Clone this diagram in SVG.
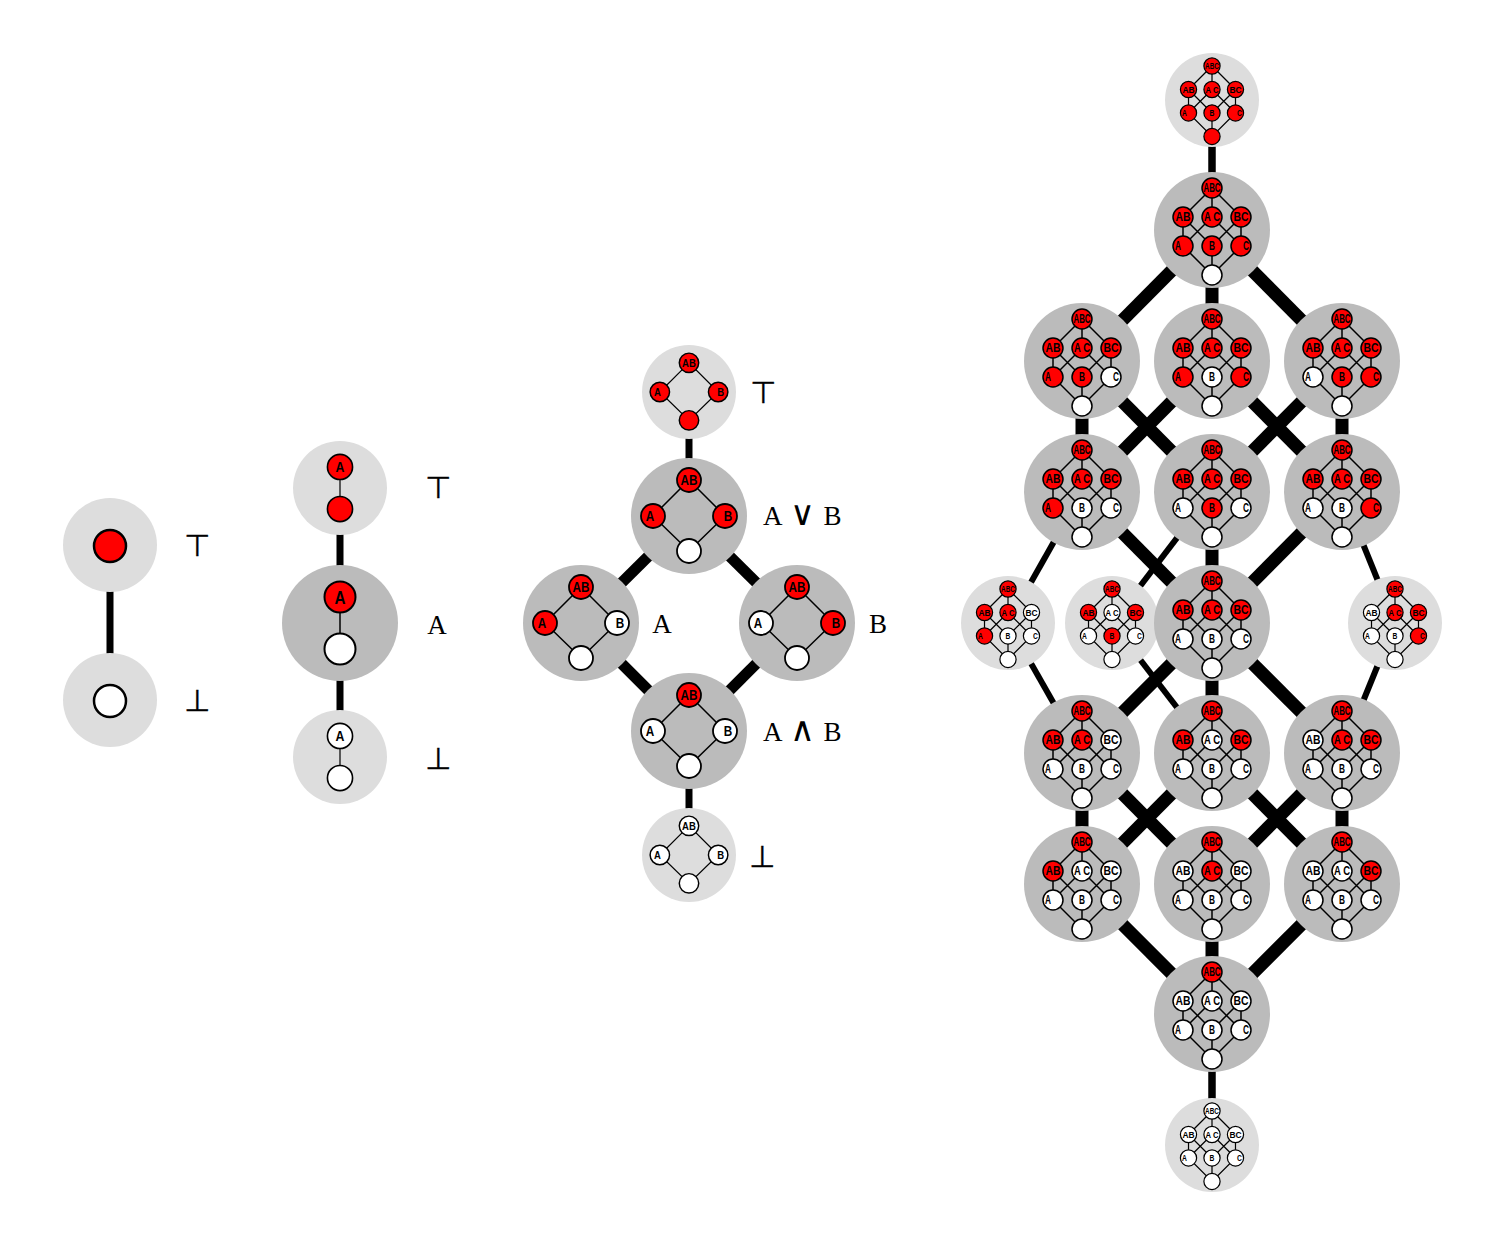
<svg xmlns="http://www.w3.org/2000/svg" xmlns:xlink="http://www.w3.org/1999/xlink" width="1500" height="1244" viewBox="0 0 1500 1244">
<style>
.lt{fill:#dddddd}
.dk{fill:#bbbbbb}
.r{fill:#ff0000;stroke:#000;stroke-width:1.5}
.w{fill:#ffffff;stroke:#000;stroke-width:1.5}
.ie{fill:none;stroke:#000;stroke-width:1.5}
.v2 .r,.v2 .w,.v2 .ie{stroke-width:1.8}
.v1 .r,.v1 .w,.v1 .ie{stroke-width:2}
.v0 .r,.v0 .w{stroke-width:2.5}
.cn line{stroke:#000}
.t3{font-family:"Liberation Sans",Arial,sans-serif;font-size:12px;font-weight:bold;text-anchor:middle;fill:#000}
.t2{font-family:"Liberation Sans",Arial,sans-serif;font-size:14px;font-weight:bold;text-anchor:middle;fill:#000}
.t1{font-family:"Liberation Sans",Arial,sans-serif;font-size:18px;font-weight:bold;text-anchor:middle;fill:#000}
.sym{font-family:"DejaVu Sans",sans-serif;font-size:30px;text-anchor:middle;fill:#000;stroke:#000;stroke-width:0.4}
.lab{font-family:"Liberation Serif","Times New Roman",serif;font-size:27px;fill:#000}
.op{font-family:"DejaVu Sans",sans-serif;font-size:34px;font-weight:300}
.mid{text-anchor:middle}
.ws{word-spacing:2px}
</style>
<defs>
<path id="E3" class="ie" d="M-29,-13L0,-42L29,-13M0,-42V-13M-29,-13V16L0,45L29,16V-13M-29,-13L0,16M0,-13L-29,16M0,-13L29,16M29,-13L0,16M0,16V45"/>
<path id="E2" class="ie" d="M0,-36L-36,0L0,35L36,0Z"/>
<path id="E1" class="ie" d="M0,-26V26"/>
</defs>
<rect width="1500" height="1244" fill="#ffffff"/>

<g id="connectors" class="cn">
<line x1="110" y1="545" x2="110" y2="700" stroke-width="7"/>
<line x1="340" y1="488" x2="340" y2="757" stroke-width="7"/>
<line x1="689" y1="392" x2="689" y2="516" stroke-width="7"/>
<line x1="689" y1="731" x2="689" y2="855" stroke-width="7"/>
<line x1="689" y1="516" x2="581" y2="623" stroke-width="11"/>
<line x1="689" y1="516" x2="797" y2="623" stroke-width="11"/>
<line x1="581" y1="623" x2="689" y2="731" stroke-width="11"/>
<line x1="797" y1="623" x2="689" y2="731" stroke-width="11"/>
<line x1="1212" y1="100" x2="1212" y2="230" stroke-width="7.5"/>
<line x1="1212" y1="230" x2="1082" y2="361" stroke-width="13"/>
<line x1="1212" y1="230" x2="1212" y2="361" stroke-width="13"/>
<line x1="1212" y1="230" x2="1342" y2="361" stroke-width="13"/>
<line x1="1082" y1="361" x2="1082" y2="492" stroke-width="13"/>
<line x1="1082" y1="361" x2="1212" y2="492" stroke-width="13"/>
<line x1="1212" y1="361" x2="1082" y2="492" stroke-width="13"/>
<line x1="1212" y1="361" x2="1342" y2="492" stroke-width="13"/>
<line x1="1342" y1="361" x2="1212" y2="492" stroke-width="13"/>
<line x1="1342" y1="361" x2="1342" y2="492" stroke-width="13"/>
<line x1="1082" y1="492" x2="1008" y2="623" stroke-width="6"/>
<line x1="1082" y1="492" x2="1212" y2="623" stroke-width="13"/>
<line x1="1212" y1="492" x2="1112" y2="623" stroke-width="6"/>
<line x1="1212" y1="492" x2="1212" y2="623" stroke-width="13"/>
<line x1="1342" y1="492" x2="1212" y2="623" stroke-width="13"/>
<line x1="1342" y1="492" x2="1395" y2="623" stroke-width="6"/>
<line x1="1008" y1="623" x2="1082" y2="753" stroke-width="6"/>
<line x1="1212" y1="623" x2="1082" y2="753" stroke-width="13"/>
<line x1="1112" y1="623" x2="1212" y2="753" stroke-width="6"/>
<line x1="1212" y1="623" x2="1212" y2="753" stroke-width="13"/>
<line x1="1212" y1="623" x2="1342" y2="753" stroke-width="13"/>
<line x1="1395" y1="623" x2="1342" y2="753" stroke-width="6"/>
<line x1="1082" y1="753" x2="1082" y2="884" stroke-width="13"/>
<line x1="1082" y1="753" x2="1212" y2="884" stroke-width="13"/>
<line x1="1212" y1="753" x2="1082" y2="884" stroke-width="13"/>
<line x1="1212" y1="753" x2="1342" y2="884" stroke-width="13"/>
<line x1="1342" y1="753" x2="1212" y2="884" stroke-width="13"/>
<line x1="1342" y1="753" x2="1342" y2="884" stroke-width="13"/>
<line x1="1082" y1="884" x2="1212" y2="1014" stroke-width="13"/>
<line x1="1212" y1="884" x2="1212" y2="1014" stroke-width="13"/>
<line x1="1342" y1="884" x2="1212" y2="1014" stroke-width="13"/>
<line x1="1212" y1="1014" x2="1212" y2="1145" stroke-width="7.5"/>
</g>

<!-- Diagram 1 -->
<g id="d1-top" class="v0"><circle class="lt" cx="110" cy="545" r="47"/><circle class="r" cx="110" cy="546" r="16"/></g>
<g id="d1-bot" class="v0"><circle class="lt" cx="110" cy="700" r="47"/><circle class="w" cx="110" cy="701" r="16"/></g>

<!-- Diagram 2 -->
<g id="d2-top" class="v1" transform="translate(340,488) scale(.81)"><circle class="lt" r="58"/><use href="#E1"/><circle class="r" cy="-26" r="15.5"/><circle class="r" cy="26" r="15.5"/><text class="t1" y="-19.5" textLength="11" lengthAdjust="spacingAndGlyphs">A</text></g>
<g id="d2-mid" class="v1" transform="translate(340,623)"><circle class="dk" r="58"/><use href="#E1"/><circle class="r" cy="-26" r="15.5"/><circle class="w" cy="26" r="15.5"/><text class="t1" y="-19.5" textLength="11" lengthAdjust="spacingAndGlyphs">A</text></g>
<g id="d2-bot" class="v1" transform="translate(340,757) scale(.81)"><circle class="lt" r="58"/><use href="#E1"/><circle class="w" cy="-26" r="15.5"/><circle class="w" cy="26" r="15.5"/><text class="t1" y="-19.5" textLength="11" lengthAdjust="spacingAndGlyphs">A</text></g>

<!-- Diagram 3 -->
<g id="d3-top" class="v2" transform="translate(689,392) scale(.81)"><circle class="lt" r="58"/><use href="#E2"/><circle class="r" cy="-36" r="12"/><circle class="r" cx="-36" r="12"/><circle class="r" cx="36" r="12"/><circle class="r" cy="35" r="12"/><text class="t2" y="-31" textLength="17" lengthAdjust="spacingAndGlyphs">AB</text><text class="t2" x="-39" y="5" textLength="8.5" lengthAdjust="spacingAndGlyphs">A</text><text class="t2" x="39" y="5" textLength="8.5" lengthAdjust="spacingAndGlyphs">B</text></g>
<g id="d3-or" class="v2" transform="translate(689,516)"><circle class="dk" r="58"/><use href="#E2"/><circle class="r" cy="-36" r="12"/><circle class="r" cx="-36" r="12"/><circle class="r" cx="36" r="12"/><circle class="w" cy="35" r="12"/><text class="t2" y="-31" textLength="17" lengthAdjust="spacingAndGlyphs">AB</text><text class="t2" x="-39" y="5" textLength="8.5" lengthAdjust="spacingAndGlyphs">A</text><text class="t2" x="39" y="5" textLength="8.5" lengthAdjust="spacingAndGlyphs">B</text></g>
<g id="d3-a" class="v2" transform="translate(581,623)"><circle class="dk" r="58"/><use href="#E2"/><circle class="r" cy="-36" r="12"/><circle class="r" cx="-36" r="12"/><circle class="w" cx="36" r="12"/><circle class="w" cy="35" r="12"/><text class="t2" y="-31" textLength="17" lengthAdjust="spacingAndGlyphs">AB</text><text class="t2" x="-39" y="5" textLength="8.5" lengthAdjust="spacingAndGlyphs">A</text><text class="t2" x="39" y="5" textLength="8.5" lengthAdjust="spacingAndGlyphs">B</text></g>
<g id="d3-b" class="v2" transform="translate(797,623)"><circle class="dk" r="58"/><use href="#E2"/><circle class="r" cy="-36" r="12"/><circle class="w" cx="-36" r="12"/><circle class="r" cx="36" r="12"/><circle class="w" cy="35" r="12"/><text class="t2" y="-31" textLength="17" lengthAdjust="spacingAndGlyphs">AB</text><text class="t2" x="-39" y="5" textLength="8.5" lengthAdjust="spacingAndGlyphs">A</text><text class="t2" x="39" y="5" textLength="8.5" lengthAdjust="spacingAndGlyphs">B</text></g>
<g id="d3-and" class="v2" transform="translate(689,731)"><circle class="dk" r="58"/><use href="#E2"/><circle class="r" cy="-36" r="12"/><circle class="w" cx="-36" r="12"/><circle class="w" cx="36" r="12"/><circle class="w" cy="35" r="12"/><text class="t2" y="-31" textLength="17" lengthAdjust="spacingAndGlyphs">AB</text><text class="t2" x="-39" y="5" textLength="8.5" lengthAdjust="spacingAndGlyphs">A</text><text class="t2" x="39" y="5" textLength="8.5" lengthAdjust="spacingAndGlyphs">B</text></g>
<g id="d3-bot" class="v2" transform="translate(689,855) scale(.81)"><circle class="lt" r="58"/><use href="#E2"/><circle class="w" cy="-36" r="12"/><circle class="w" cx="-36" r="12"/><circle class="w" cx="36" r="12"/><circle class="w" cy="35" r="12"/><text class="t2" y="-31" textLength="17" lengthAdjust="spacingAndGlyphs">AB</text><text class="t2" x="-39" y="5" textLength="8.5" lengthAdjust="spacingAndGlyphs">A</text><text class="t2" x="39" y="5" textLength="8.5" lengthAdjust="spacingAndGlyphs">B</text></g>

<!-- Diagram 4 -->
<g id="d4-top" transform="translate(1212,100) scale(.81)"><circle class="lt" r="58"/><use href="#E3"/><circle class="r" cy="-42" r="10"/><circle class="r" cx="-29" cy="-13" r="10"/><circle class="r" cy="-13" r="10"/><circle class="r" cx="29" cy="-13" r="10"/><circle class="r" cx="-29" cy="16" r="10"/><circle class="r" cy="16" r="10"/><circle class="r" cx="29" cy="16" r="10"/><circle class="r" cy="45" r="10"/><text class="t3" y="-37.7" textLength="17" lengthAdjust="spacingAndGlyphs">ABC</text><text class="t3" x="-29" y="-8.7" textLength="15" lengthAdjust="spacingAndGlyphs">AB</text><text class="t3" y="-8.7" textLength="16" lengthAdjust="spacingAndGlyphs">A C</text><text class="t3" x="29" y="-8.7" textLength="15" lengthAdjust="spacingAndGlyphs">BC</text><text class="t3" x="-34" y="20.3" textLength="6" lengthAdjust="spacingAndGlyphs">A</text><text class="t3" y="20.3" textLength="6" lengthAdjust="spacingAndGlyphs">B</text><text class="t3" x="34" y="20.3" textLength="6" lengthAdjust="spacingAndGlyphs">C</text></g>
<g id="d4-d0" transform="translate(1212,230)"><circle class="dk" r="58"/><use href="#E3"/><circle class="r" cy="-42" r="10"/><circle class="r" cx="-29" cy="-13" r="10"/><circle class="r" cy="-13" r="10"/><circle class="r" cx="29" cy="-13" r="10"/><circle class="r" cx="-29" cy="16" r="10"/><circle class="r" cy="16" r="10"/><circle class="r" cx="29" cy="16" r="10"/><circle class="w" cy="45" r="10"/><text class="t3" y="-37.7" textLength="17" lengthAdjust="spacingAndGlyphs">ABC</text><text class="t3" x="-29" y="-8.7" textLength="15" lengthAdjust="spacingAndGlyphs">AB</text><text class="t3" y="-8.7" textLength="16" lengthAdjust="spacingAndGlyphs">A C</text><text class="t3" x="29" y="-8.7" textLength="15" lengthAdjust="spacingAndGlyphs">BC</text><text class="t3" x="-34" y="20.3" textLength="6" lengthAdjust="spacingAndGlyphs">A</text><text class="t3" y="20.3" textLength="6" lengthAdjust="spacingAndGlyphs">B</text><text class="t3" x="34" y="20.3" textLength="6" lengthAdjust="spacingAndGlyphs">C</text></g>
<g id="d4-r1a" transform="translate(1082,361)"><circle class="dk" r="58"/><use href="#E3"/><circle class="r" cy="-42" r="10"/><circle class="r" cx="-29" cy="-13" r="10"/><circle class="r" cy="-13" r="10"/><circle class="r" cx="29" cy="-13" r="10"/><circle class="r" cx="-29" cy="16" r="10"/><circle class="r" cy="16" r="10"/><circle class="w" cx="29" cy="16" r="10"/><circle class="w" cy="45" r="10"/><text class="t3" y="-37.7" textLength="17" lengthAdjust="spacingAndGlyphs">ABC</text><text class="t3" x="-29" y="-8.7" textLength="15" lengthAdjust="spacingAndGlyphs">AB</text><text class="t3" y="-8.7" textLength="16" lengthAdjust="spacingAndGlyphs">A C</text><text class="t3" x="29" y="-8.7" textLength="15" lengthAdjust="spacingAndGlyphs">BC</text><text class="t3" x="-34" y="20.3" textLength="6" lengthAdjust="spacingAndGlyphs">A</text><text class="t3" y="20.3" textLength="6" lengthAdjust="spacingAndGlyphs">B</text><text class="t3" x="34" y="20.3" textLength="6" lengthAdjust="spacingAndGlyphs">C</text></g>
<g id="d4-r1b" transform="translate(1212,361)"><circle class="dk" r="58"/><use href="#E3"/><circle class="r" cy="-42" r="10"/><circle class="r" cx="-29" cy="-13" r="10"/><circle class="r" cy="-13" r="10"/><circle class="r" cx="29" cy="-13" r="10"/><circle class="r" cx="-29" cy="16" r="10"/><circle class="w" cy="16" r="10"/><circle class="r" cx="29" cy="16" r="10"/><circle class="w" cy="45" r="10"/><text class="t3" y="-37.7" textLength="17" lengthAdjust="spacingAndGlyphs">ABC</text><text class="t3" x="-29" y="-8.7" textLength="15" lengthAdjust="spacingAndGlyphs">AB</text><text class="t3" y="-8.7" textLength="16" lengthAdjust="spacingAndGlyphs">A C</text><text class="t3" x="29" y="-8.7" textLength="15" lengthAdjust="spacingAndGlyphs">BC</text><text class="t3" x="-34" y="20.3" textLength="6" lengthAdjust="spacingAndGlyphs">A</text><text class="t3" y="20.3" textLength="6" lengthAdjust="spacingAndGlyphs">B</text><text class="t3" x="34" y="20.3" textLength="6" lengthAdjust="spacingAndGlyphs">C</text></g>
<g id="d4-r1c" transform="translate(1342,361)"><circle class="dk" r="58"/><use href="#E3"/><circle class="r" cy="-42" r="10"/><circle class="r" cx="-29" cy="-13" r="10"/><circle class="r" cy="-13" r="10"/><circle class="r" cx="29" cy="-13" r="10"/><circle class="w" cx="-29" cy="16" r="10"/><circle class="r" cy="16" r="10"/><circle class="r" cx="29" cy="16" r="10"/><circle class="w" cy="45" r="10"/><text class="t3" y="-37.7" textLength="17" lengthAdjust="spacingAndGlyphs">ABC</text><text class="t3" x="-29" y="-8.7" textLength="15" lengthAdjust="spacingAndGlyphs">AB</text><text class="t3" y="-8.7" textLength="16" lengthAdjust="spacingAndGlyphs">A C</text><text class="t3" x="29" y="-8.7" textLength="15" lengthAdjust="spacingAndGlyphs">BC</text><text class="t3" x="-34" y="20.3" textLength="6" lengthAdjust="spacingAndGlyphs">A</text><text class="t3" y="20.3" textLength="6" lengthAdjust="spacingAndGlyphs">B</text><text class="t3" x="34" y="20.3" textLength="6" lengthAdjust="spacingAndGlyphs">C</text></g>
<g id="d4-r2a" transform="translate(1082,492)"><circle class="dk" r="58"/><use href="#E3"/><circle class="r" cy="-42" r="10"/><circle class="r" cx="-29" cy="-13" r="10"/><circle class="r" cy="-13" r="10"/><circle class="r" cx="29" cy="-13" r="10"/><circle class="r" cx="-29" cy="16" r="10"/><circle class="w" cy="16" r="10"/><circle class="w" cx="29" cy="16" r="10"/><circle class="w" cy="45" r="10"/><text class="t3" y="-37.7" textLength="17" lengthAdjust="spacingAndGlyphs">ABC</text><text class="t3" x="-29" y="-8.7" textLength="15" lengthAdjust="spacingAndGlyphs">AB</text><text class="t3" y="-8.7" textLength="16" lengthAdjust="spacingAndGlyphs">A C</text><text class="t3" x="29" y="-8.7" textLength="15" lengthAdjust="spacingAndGlyphs">BC</text><text class="t3" x="-34" y="20.3" textLength="6" lengthAdjust="spacingAndGlyphs">A</text><text class="t3" y="20.3" textLength="6" lengthAdjust="spacingAndGlyphs">B</text><text class="t3" x="34" y="20.3" textLength="6" lengthAdjust="spacingAndGlyphs">C</text></g>
<g id="d4-r2b" transform="translate(1212,492)"><circle class="dk" r="58"/><use href="#E3"/><circle class="r" cy="-42" r="10"/><circle class="r" cx="-29" cy="-13" r="10"/><circle class="r" cy="-13" r="10"/><circle class="r" cx="29" cy="-13" r="10"/><circle class="w" cx="-29" cy="16" r="10"/><circle class="r" cy="16" r="10"/><circle class="w" cx="29" cy="16" r="10"/><circle class="w" cy="45" r="10"/><text class="t3" y="-37.7" textLength="17" lengthAdjust="spacingAndGlyphs">ABC</text><text class="t3" x="-29" y="-8.7" textLength="15" lengthAdjust="spacingAndGlyphs">AB</text><text class="t3" y="-8.7" textLength="16" lengthAdjust="spacingAndGlyphs">A C</text><text class="t3" x="29" y="-8.7" textLength="15" lengthAdjust="spacingAndGlyphs">BC</text><text class="t3" x="-34" y="20.3" textLength="6" lengthAdjust="spacingAndGlyphs">A</text><text class="t3" y="20.3" textLength="6" lengthAdjust="spacingAndGlyphs">B</text><text class="t3" x="34" y="20.3" textLength="6" lengthAdjust="spacingAndGlyphs">C</text></g>
<g id="d4-r2c" transform="translate(1342,492)"><circle class="dk" r="58"/><use href="#E3"/><circle class="r" cy="-42" r="10"/><circle class="r" cx="-29" cy="-13" r="10"/><circle class="r" cy="-13" r="10"/><circle class="r" cx="29" cy="-13" r="10"/><circle class="w" cx="-29" cy="16" r="10"/><circle class="w" cy="16" r="10"/><circle class="r" cx="29" cy="16" r="10"/><circle class="w" cy="45" r="10"/><text class="t3" y="-37.7" textLength="17" lengthAdjust="spacingAndGlyphs">ABC</text><text class="t3" x="-29" y="-8.7" textLength="15" lengthAdjust="spacingAndGlyphs">AB</text><text class="t3" y="-8.7" textLength="16" lengthAdjust="spacingAndGlyphs">A C</text><text class="t3" x="29" y="-8.7" textLength="15" lengthAdjust="spacingAndGlyphs">BC</text><text class="t3" x="-34" y="20.3" textLength="6" lengthAdjust="spacingAndGlyphs">A</text><text class="t3" y="20.3" textLength="6" lengthAdjust="spacingAndGlyphs">B</text><text class="t3" x="34" y="20.3" textLength="6" lengthAdjust="spacingAndGlyphs">C</text></g>
<g id="d4-l1" transform="translate(1008,623) scale(.81)"><circle class="lt" r="58"/><use href="#E3"/><circle class="r" cy="-42" r="10"/><circle class="r" cx="-29" cy="-13" r="10"/><circle class="r" cy="-13" r="10"/><circle class="w" cx="29" cy="-13" r="10"/><circle class="r" cx="-29" cy="16" r="10"/><circle class="w" cy="16" r="10"/><circle class="w" cx="29" cy="16" r="10"/><circle class="w" cy="45" r="10"/><text class="t3" y="-37.7" textLength="17" lengthAdjust="spacingAndGlyphs">ABC</text><text class="t3" x="-29" y="-8.7" textLength="15" lengthAdjust="spacingAndGlyphs">AB</text><text class="t3" y="-8.7" textLength="16" lengthAdjust="spacingAndGlyphs">A C</text><text class="t3" x="29" y="-8.7" textLength="15" lengthAdjust="spacingAndGlyphs">BC</text><text class="t3" x="-34" y="20.3" textLength="6" lengthAdjust="spacingAndGlyphs">A</text><text class="t3" y="20.3" textLength="6" lengthAdjust="spacingAndGlyphs">B</text><text class="t3" x="34" y="20.3" textLength="6" lengthAdjust="spacingAndGlyphs">C</text></g>
<g id="d4-l2" transform="translate(1112,623) scale(.81)"><circle class="lt" r="58"/><use href="#E3"/><circle class="r" cy="-42" r="10"/><circle class="r" cx="-29" cy="-13" r="10"/><circle class="w" cy="-13" r="10"/><circle class="r" cx="29" cy="-13" r="10"/><circle class="w" cx="-29" cy="16" r="10"/><circle class="r" cy="16" r="10"/><circle class="w" cx="29" cy="16" r="10"/><circle class="w" cy="45" r="10"/><text class="t3" y="-37.7" textLength="17" lengthAdjust="spacingAndGlyphs">ABC</text><text class="t3" x="-29" y="-8.7" textLength="15" lengthAdjust="spacingAndGlyphs">AB</text><text class="t3" y="-8.7" textLength="16" lengthAdjust="spacingAndGlyphs">A C</text><text class="t3" x="29" y="-8.7" textLength="15" lengthAdjust="spacingAndGlyphs">BC</text><text class="t3" x="-34" y="20.3" textLength="6" lengthAdjust="spacingAndGlyphs">A</text><text class="t3" y="20.3" textLength="6" lengthAdjust="spacingAndGlyphs">B</text><text class="t3" x="34" y="20.3" textLength="6" lengthAdjust="spacingAndGlyphs">C</text></g>
<g id="d4-l3" transform="translate(1395,623) scale(.81)"><circle class="lt" r="58"/><use href="#E3"/><circle class="r" cy="-42" r="10"/><circle class="w" cx="-29" cy="-13" r="10"/><circle class="r" cy="-13" r="10"/><circle class="r" cx="29" cy="-13" r="10"/><circle class="w" cx="-29" cy="16" r="10"/><circle class="w" cy="16" r="10"/><circle class="r" cx="29" cy="16" r="10"/><circle class="w" cy="45" r="10"/><text class="t3" y="-37.7" textLength="17" lengthAdjust="spacingAndGlyphs">ABC</text><text class="t3" x="-29" y="-8.7" textLength="15" lengthAdjust="spacingAndGlyphs">AB</text><text class="t3" y="-8.7" textLength="16" lengthAdjust="spacingAndGlyphs">A C</text><text class="t3" x="29" y="-8.7" textLength="15" lengthAdjust="spacingAndGlyphs">BC</text><text class="t3" x="-34" y="20.3" textLength="6" lengthAdjust="spacingAndGlyphs">A</text><text class="t3" y="20.3" textLength="6" lengthAdjust="spacingAndGlyphs">B</text><text class="t3" x="34" y="20.3" textLength="6" lengthAdjust="spacingAndGlyphs">C</text></g>
<g id="d4-mid" transform="translate(1212,623)"><circle class="dk" r="58"/><use href="#E3"/><circle class="r" cy="-42" r="10"/><circle class="r" cx="-29" cy="-13" r="10"/><circle class="r" cy="-13" r="10"/><circle class="r" cx="29" cy="-13" r="10"/><circle class="w" cx="-29" cy="16" r="10"/><circle class="w" cy="16" r="10"/><circle class="w" cx="29" cy="16" r="10"/><circle class="w" cy="45" r="10"/><text class="t3" y="-37.7" textLength="17" lengthAdjust="spacingAndGlyphs">ABC</text><text class="t3" x="-29" y="-8.7" textLength="15" lengthAdjust="spacingAndGlyphs">AB</text><text class="t3" y="-8.7" textLength="16" lengthAdjust="spacingAndGlyphs">A C</text><text class="t3" x="29" y="-8.7" textLength="15" lengthAdjust="spacingAndGlyphs">BC</text><text class="t3" x="-34" y="20.3" textLength="6" lengthAdjust="spacingAndGlyphs">A</text><text class="t3" y="20.3" textLength="6" lengthAdjust="spacingAndGlyphs">B</text><text class="t3" x="34" y="20.3" textLength="6" lengthAdjust="spacingAndGlyphs">C</text></g>
<g id="d4-r4a" transform="translate(1082,753)"><circle class="dk" r="58"/><use href="#E3"/><circle class="r" cy="-42" r="10"/><circle class="r" cx="-29" cy="-13" r="10"/><circle class="r" cy="-13" r="10"/><circle class="w" cx="29" cy="-13" r="10"/><circle class="w" cx="-29" cy="16" r="10"/><circle class="w" cy="16" r="10"/><circle class="w" cx="29" cy="16" r="10"/><circle class="w" cy="45" r="10"/><text class="t3" y="-37.7" textLength="17" lengthAdjust="spacingAndGlyphs">ABC</text><text class="t3" x="-29" y="-8.7" textLength="15" lengthAdjust="spacingAndGlyphs">AB</text><text class="t3" y="-8.7" textLength="16" lengthAdjust="spacingAndGlyphs">A C</text><text class="t3" x="29" y="-8.7" textLength="15" lengthAdjust="spacingAndGlyphs">BC</text><text class="t3" x="-34" y="20.3" textLength="6" lengthAdjust="spacingAndGlyphs">A</text><text class="t3" y="20.3" textLength="6" lengthAdjust="spacingAndGlyphs">B</text><text class="t3" x="34" y="20.3" textLength="6" lengthAdjust="spacingAndGlyphs">C</text></g>
<g id="d4-r4b" transform="translate(1212,753)"><circle class="dk" r="58"/><use href="#E3"/><circle class="r" cy="-42" r="10"/><circle class="r" cx="-29" cy="-13" r="10"/><circle class="w" cy="-13" r="10"/><circle class="r" cx="29" cy="-13" r="10"/><circle class="w" cx="-29" cy="16" r="10"/><circle class="w" cy="16" r="10"/><circle class="w" cx="29" cy="16" r="10"/><circle class="w" cy="45" r="10"/><text class="t3" y="-37.7" textLength="17" lengthAdjust="spacingAndGlyphs">ABC</text><text class="t3" x="-29" y="-8.7" textLength="15" lengthAdjust="spacingAndGlyphs">AB</text><text class="t3" y="-8.7" textLength="16" lengthAdjust="spacingAndGlyphs">A C</text><text class="t3" x="29" y="-8.7" textLength="15" lengthAdjust="spacingAndGlyphs">BC</text><text class="t3" x="-34" y="20.3" textLength="6" lengthAdjust="spacingAndGlyphs">A</text><text class="t3" y="20.3" textLength="6" lengthAdjust="spacingAndGlyphs">B</text><text class="t3" x="34" y="20.3" textLength="6" lengthAdjust="spacingAndGlyphs">C</text></g>
<g id="d4-r4c" transform="translate(1342,753)"><circle class="dk" r="58"/><use href="#E3"/><circle class="r" cy="-42" r="10"/><circle class="w" cx="-29" cy="-13" r="10"/><circle class="r" cy="-13" r="10"/><circle class="r" cx="29" cy="-13" r="10"/><circle class="w" cx="-29" cy="16" r="10"/><circle class="w" cy="16" r="10"/><circle class="w" cx="29" cy="16" r="10"/><circle class="w" cy="45" r="10"/><text class="t3" y="-37.7" textLength="17" lengthAdjust="spacingAndGlyphs">ABC</text><text class="t3" x="-29" y="-8.7" textLength="15" lengthAdjust="spacingAndGlyphs">AB</text><text class="t3" y="-8.7" textLength="16" lengthAdjust="spacingAndGlyphs">A C</text><text class="t3" x="29" y="-8.7" textLength="15" lengthAdjust="spacingAndGlyphs">BC</text><text class="t3" x="-34" y="20.3" textLength="6" lengthAdjust="spacingAndGlyphs">A</text><text class="t3" y="20.3" textLength="6" lengthAdjust="spacingAndGlyphs">B</text><text class="t3" x="34" y="20.3" textLength="6" lengthAdjust="spacingAndGlyphs">C</text></g>
<g id="d4-r5a" transform="translate(1082,884)"><circle class="dk" r="58"/><use href="#E3"/><circle class="r" cy="-42" r="10"/><circle class="r" cx="-29" cy="-13" r="10"/><circle class="w" cy="-13" r="10"/><circle class="w" cx="29" cy="-13" r="10"/><circle class="w" cx="-29" cy="16" r="10"/><circle class="w" cy="16" r="10"/><circle class="w" cx="29" cy="16" r="10"/><circle class="w" cy="45" r="10"/><text class="t3" y="-37.7" textLength="17" lengthAdjust="spacingAndGlyphs">ABC</text><text class="t3" x="-29" y="-8.7" textLength="15" lengthAdjust="spacingAndGlyphs">AB</text><text class="t3" y="-8.7" textLength="16" lengthAdjust="spacingAndGlyphs">A C</text><text class="t3" x="29" y="-8.7" textLength="15" lengthAdjust="spacingAndGlyphs">BC</text><text class="t3" x="-34" y="20.3" textLength="6" lengthAdjust="spacingAndGlyphs">A</text><text class="t3" y="20.3" textLength="6" lengthAdjust="spacingAndGlyphs">B</text><text class="t3" x="34" y="20.3" textLength="6" lengthAdjust="spacingAndGlyphs">C</text></g>
<g id="d4-r5b" transform="translate(1212,884)"><circle class="dk" r="58"/><use href="#E3"/><circle class="r" cy="-42" r="10"/><circle class="w" cx="-29" cy="-13" r="10"/><circle class="r" cy="-13" r="10"/><circle class="w" cx="29" cy="-13" r="10"/><circle class="w" cx="-29" cy="16" r="10"/><circle class="w" cy="16" r="10"/><circle class="w" cx="29" cy="16" r="10"/><circle class="w" cy="45" r="10"/><text class="t3" y="-37.7" textLength="17" lengthAdjust="spacingAndGlyphs">ABC</text><text class="t3" x="-29" y="-8.7" textLength="15" lengthAdjust="spacingAndGlyphs">AB</text><text class="t3" y="-8.7" textLength="16" lengthAdjust="spacingAndGlyphs">A C</text><text class="t3" x="29" y="-8.7" textLength="15" lengthAdjust="spacingAndGlyphs">BC</text><text class="t3" x="-34" y="20.3" textLength="6" lengthAdjust="spacingAndGlyphs">A</text><text class="t3" y="20.3" textLength="6" lengthAdjust="spacingAndGlyphs">B</text><text class="t3" x="34" y="20.3" textLength="6" lengthAdjust="spacingAndGlyphs">C</text></g>
<g id="d4-r5c" transform="translate(1342,884)"><circle class="dk" r="58"/><use href="#E3"/><circle class="r" cy="-42" r="10"/><circle class="w" cx="-29" cy="-13" r="10"/><circle class="w" cy="-13" r="10"/><circle class="r" cx="29" cy="-13" r="10"/><circle class="w" cx="-29" cy="16" r="10"/><circle class="w" cy="16" r="10"/><circle class="w" cx="29" cy="16" r="10"/><circle class="w" cy="45" r="10"/><text class="t3" y="-37.7" textLength="17" lengthAdjust="spacingAndGlyphs">ABC</text><text class="t3" x="-29" y="-8.7" textLength="15" lengthAdjust="spacingAndGlyphs">AB</text><text class="t3" y="-8.7" textLength="16" lengthAdjust="spacingAndGlyphs">A C</text><text class="t3" x="29" y="-8.7" textLength="15" lengthAdjust="spacingAndGlyphs">BC</text><text class="t3" x="-34" y="20.3" textLength="6" lengthAdjust="spacingAndGlyphs">A</text><text class="t3" y="20.3" textLength="6" lengthAdjust="spacingAndGlyphs">B</text><text class="t3" x="34" y="20.3" textLength="6" lengthAdjust="spacingAndGlyphs">C</text></g>
<g id="d4-d6" transform="translate(1212,1014)"><circle class="dk" r="58"/><use href="#E3"/><circle class="r" cy="-42" r="10"/><circle class="w" cx="-29" cy="-13" r="10"/><circle class="w" cy="-13" r="10"/><circle class="w" cx="29" cy="-13" r="10"/><circle class="w" cx="-29" cy="16" r="10"/><circle class="w" cy="16" r="10"/><circle class="w" cx="29" cy="16" r="10"/><circle class="w" cy="45" r="10"/><text class="t3" y="-37.7" textLength="17" lengthAdjust="spacingAndGlyphs">ABC</text><text class="t3" x="-29" y="-8.7" textLength="15" lengthAdjust="spacingAndGlyphs">AB</text><text class="t3" y="-8.7" textLength="16" lengthAdjust="spacingAndGlyphs">A C</text><text class="t3" x="29" y="-8.7" textLength="15" lengthAdjust="spacingAndGlyphs">BC</text><text class="t3" x="-34" y="20.3" textLength="6" lengthAdjust="spacingAndGlyphs">A</text><text class="t3" y="20.3" textLength="6" lengthAdjust="spacingAndGlyphs">B</text><text class="t3" x="34" y="20.3" textLength="6" lengthAdjust="spacingAndGlyphs">C</text></g>
<g id="d4-bot" transform="translate(1212,1145) scale(.81)"><circle class="lt" r="58"/><use href="#E3"/><circle class="w" cy="-42" r="10"/><circle class="w" cx="-29" cy="-13" r="10"/><circle class="w" cy="-13" r="10"/><circle class="w" cx="29" cy="-13" r="10"/><circle class="w" cx="-29" cy="16" r="10"/><circle class="w" cy="16" r="10"/><circle class="w" cx="29" cy="16" r="10"/><circle class="w" cy="45" r="10"/><text class="t3" y="-37.7" textLength="17" lengthAdjust="spacingAndGlyphs">ABC</text><text class="t3" x="-29" y="-8.7" textLength="15" lengthAdjust="spacingAndGlyphs">AB</text><text class="t3" y="-8.7" textLength="16" lengthAdjust="spacingAndGlyphs">A C</text><text class="t3" x="29" y="-8.7" textLength="15" lengthAdjust="spacingAndGlyphs">BC</text><text class="t3" x="-34" y="20.3" textLength="6" lengthAdjust="spacingAndGlyphs">A</text><text class="t3" y="20.3" textLength="6" lengthAdjust="spacingAndGlyphs">B</text><text class="t3" x="34" y="20.3" textLength="6" lengthAdjust="spacingAndGlyphs">C</text></g>

<g id="labels">
<text class="sym" x="197" y="556">⊤</text>
<text class="sym" x="197" y="711">⊥</text>
<text class="sym" x="438" y="498">⊤</text>
<text class="lab mid" x="437" y="634">A</text>
<text class="sym" x="438" y="769">⊥</text>
<text class="sym" x="763" y="403">⊤</text>
<text class="lab ws" x="763" y="525">A <tspan class="op">∨</tspan> B</text>
<text class="lab mid" x="662" y="633">A</text>
<text class="lab mid" x="878" y="633">B</text>
<text class="lab ws" x="763" y="741">A <tspan class="op">∧</tspan> B</text>
<text class="sym" x="762" y="867">⊥</text>
</g>
</svg>
